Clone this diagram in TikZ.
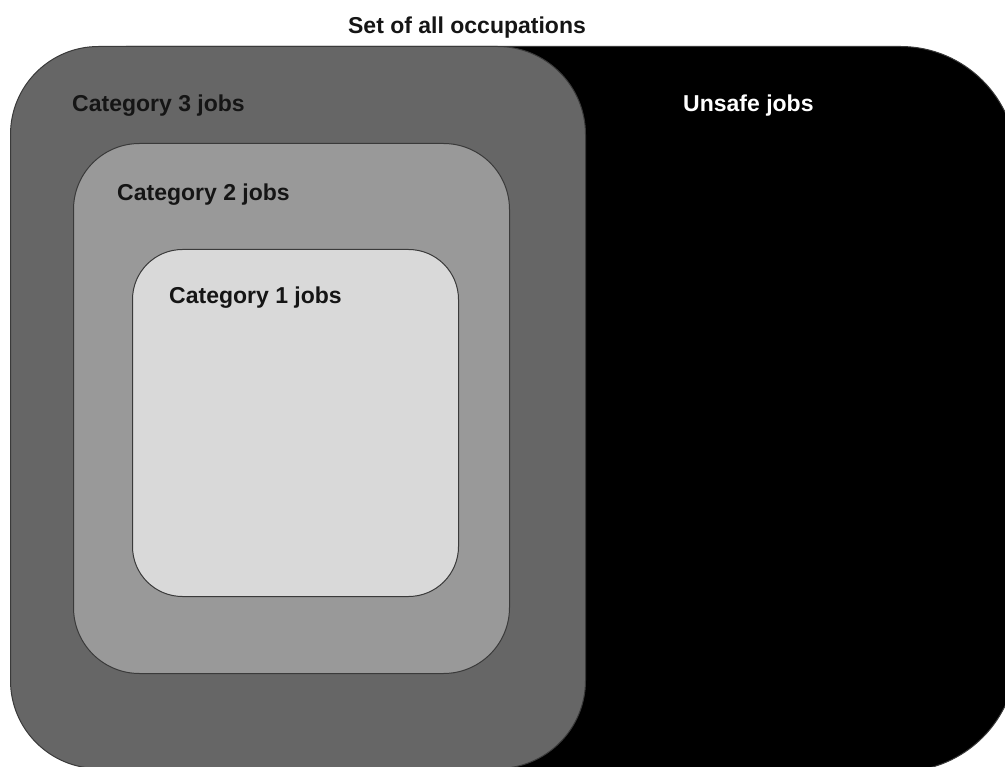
\documentclass[tikz,border=0pt]{standalone}
\usepackage{fontspec}
\setmainfont{Liberation Sans}
\definecolor{edgegrey}{HTML}{3A3A3A}
\definecolor{cattext}{HTML}{151515}
\definecolor{catthree}{HTML}{666666}
\definecolor{cattwo}{HTML}{999999}
\definecolor{catone}{HTML}{D9D9D9}
\begin{document}
\begin{tikzpicture}[x=1pt,y=1pt,
  region/.style={draw=edgegrey, line width=1pt, inner sep=0pt, anchor=north west},
  lbl/.style={font=\fontsize{23}{27}\selectfont\bfseries, inner sep=0pt, anchor=base west, text=cattext}]
\useasboundingbox (0,0) rectangle (1005,-767);
\clip (0,0) rectangle (1005,-767);
\node[region, fill=black, minimum width=1006pt, minimum height=725pt, rounded corners=116pt] (unsafe) at (10,-46) {};
\node[region, fill=catthree, minimum width=575pt, minimum height=722pt, rounded corners=88pt] (cat3) at (10,-46) {};
\node[region, fill=cattwo, minimum width=436pt, minimum height=530pt, rounded corners=66pt] (cat2) at (73,-143) {};
\node[region, fill=catone, minimum width=326pt, minimum height=347pt, rounded corners=50pt] (cat1) at (132,-249) {};
\node[lbl, anchor=base] (title) at (467,-34) {Set of all occupations};
\node[lbl] (l3) at (72,-112) {Category 3 jobs};
\node[lbl] (l2) at (117,-201) {Category 2 jobs};
\node[lbl] (l1) at (169,-304) {Category 1 jobs};
\node[lbl, text=white] (lu) at (683,-112) {Unsafe jobs};
\end{tikzpicture}
\end{document}
